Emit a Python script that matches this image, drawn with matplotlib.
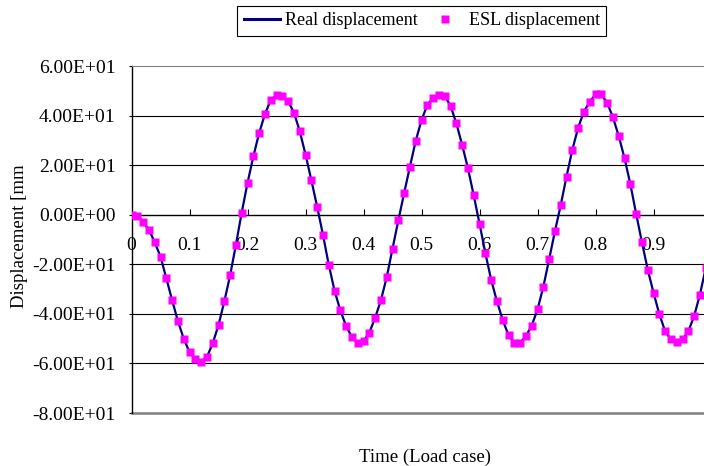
import numpy as np
import matplotlib
matplotlib.use("Agg")
import matplotlib.pyplot as plt
from matplotlib.ticker import FuncFormatter

plt.rcParams['font.family'] = ['Liberation Serif', 'DejaVu Serif']
plt.rcParams['font.size'] = 13.5

# time (load case), step 0.01
time = [round(0.01 * i, 2) for i in range(100)]

# displacement [mm]
disp = [0.0, -0.4, -3.0, -6.0, -11.1, -16.9, -25.6, -34.5, -42.9, -50.0,
        -55.4, -58.3, -59.3, -57.4, -51.9, -44.5, -35.0, -24.5, -12.1, 0.9,
        12.8, 23.5, 32.9, 40.6, 46.3, 48.3, 47.9, 45.8, 41.2, 33.8,
        24.3, 14.0, 3.3, -8.0, -20.1, -30.6, -38.6, -44.9, -49.4, -51.9,
        -51.0, -47.6, -41.6, -34.5, -25.2, -13.7, -2.3, 8.7, 19.4, 29.8,
        38.2, 44.3, 47.2, 48.3, 47.9, 44.0, 36.9, 28.2, 18.8, 7.8,
        -3.6, -15.4, -26.2, -34.9, -42.5, -48.6, -51.6, -51.6, -49.0, -44.7,
        -38.2, -29.1, -18.0, -6.7, 3.9, 15.4, 26.2, 35.1, 41.6, 45.6,
        48.6, 48.6, 45.2, 39.3, 31.8, 22.8, 12.4, 0.4, -11.1, -22.1,
        -31.5, -40.1, -47.0, -50.3, -51.2, -50.3, -47.0, -40.9, -32.2, -21.5]

real_disp = disp
esl_disp = disp

x_ticks = [0, 0.1, 0.2, 0.3, 0.4, 0.5, 0.6, 0.7, 0.8, 0.9]
x_labels = ['0', '0.1', '0.2', '0.3', '0.4', '0.5', '0.6', '0.7', '0.8', '0.9']
y_ticks = [-80, -60, -40, -20, 0, 20, 40, 60]

fig = plt.figure(figsize=(7.04, 4.66), dpi=100)
ax = fig.add_axes([0.1868, 0.1137, 0.8239, 0.7446])

ax.plot(time, real_disp, color='#000080', lw=1.6, label='Real displacement', zorder=3)
ax.plot(time, esl_disp, ls='none', marker='s', ms=6, color='#FF00FF', mec='none',
        label='ESL displacement', zorder=4)

ax.set_xlim(0, 1)
ax.set_ylim(-80, 60)
ax.set_yticks(y_ticks)
ax.yaxis.set_major_formatter(FuncFormatter(lambda v, p: '{:.2E}'.format(v)))
ax.set_xticks(x_ticks)
ax.set_xticklabels(x_labels)

for y in [-60, -40, -20, 20, 40]:
    ax.axhline(y, color='black', lw=0.8, zorder=1)
ax.axhline(-80, color='#808080', lw=1.8, zorder=2, clip_on=False)

ax.spines['bottom'].set_position(('data', 0))
ax.spines['bottom'].set_linewidth(1.0)
ax.spines['top'].set_color('#808080')
ax.spines['right'].set_visible(False)
ax.spines['left'].set_linewidth(1.0)

ax.tick_params(axis='x', direction='in', length=4, pad=16, width=0.8, labelsize=14)
ax.tick_params(axis='y', direction='out', length=2.5, pad=9, width=0.8, labelsize=14)

ax.set_xlabel('Time (Load case)')
ax.xaxis.set_label_coords(0.506, -0.104)
ax.set_ylabel('Displacement [mm')
ax.yaxis.set_label_coords(-0.178, 0.51)

leg = ax.legend(loc='center', bbox_to_anchor=(0.599, 0.955), bbox_transform=fig.transFigure,
                ncol=2, fancybox=False, edgecolor='black', framealpha=1, fontsize=13,
                handlelength=2.0, handletextpad=0.3, columnspacing=0.5,
                borderpad=0.35, borderaxespad=0)
leg.get_frame().set_linewidth(0.8)
leg.get_lines()[0].set_linewidth(2.2)

fig.savefig('out.png', dpi=100)
